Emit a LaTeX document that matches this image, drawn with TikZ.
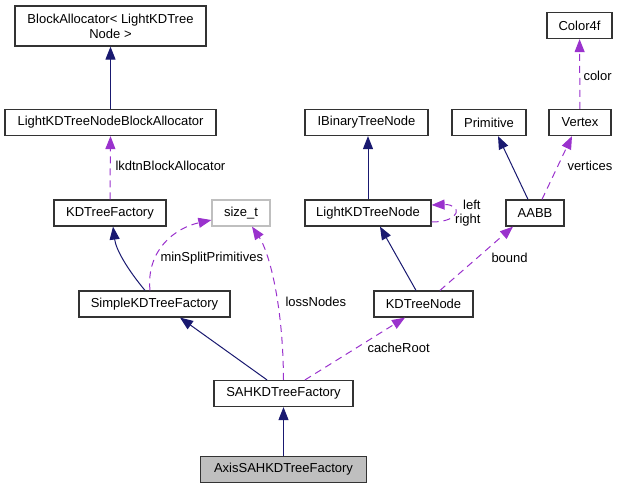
\documentclass[tikz,border=0pt]{standalone}
\usepackage{fontspec}
\setmainfont{Liberation Sans}
\usetikzlibrary{arrows.meta}
\definecolor{dxnavy}{HTML}{191970}
\definecolor{dxorchid}{HTML}{9A32CD}
\definecolor{dxgray}{HTML}{BFBFBF}

\begin{document}
\begin{tikzpicture}[x=1pt,y=-1pt,line width=1pt,font=\fontsize{13}{15}\selectfont,
	cls/.style={draw=black!80,fill=white,minimum height=26pt,inner sep=0pt,align=center,line width=1.2pt},
	inh/.style={dxnavy,-{Triangle[length=13pt,width=10pt]}},
	use/.style={dxorchid,dash pattern=on 7pt off 5pt,-{Triangle[length=13pt,width=10pt]}},
	lbl/.style={inner sep=0pt,anchor=west}]
			\useasboundingbox (0,0) rectangle (619,488);
			\node[cls,minimum width=191pt,minimum height=40pt] (blockalloc) at (110.5,26) {BlockAllocator< LightKDTree\\Node >};
			\node[cls,minimum width=211pt] (lkdtnalloc) at (110.5,122.5) {LightKDTreeNodeBlockAllocator};
			\node[cls,minimum width=112pt] (kdfactory) at (110,213) {KDTreeFactory};
			\node[cls,draw=dxgray,minimum width=58pt] (sizet) at (241,213) {size\_t};
			\node[cls,minimum width=151pt] (simplefactory) at (154.5,304) {SimpleKDTreeFactory};
			\node[cls,minimum width=139pt] (sahfactory) at (283.5,393.5) {SAHKDTreeFactory};
			\node[cls,fill=dxgray,minimum width=166pt] (axisfactory) at (283.5,469.5) {AxisSAHKDTreeFactory};
			\node[cls,minimum width=123pt] (ibinary) at (366.5,122.5) {IBinaryTreeNode};
			\node[cls,minimum width=74pt] (primitive) at (489,122.5) {Primitive};
			\node[cls,minimum width=62pt] (vertex) at (580,122.5) {Vertex};
			\node[cls,minimum width=65pt] (color4f) at (579.5,25.5) {Color4f};
			\node[cls,minimum width=126pt] (lightnode) at (368,213) {LightKDTreeNode};
			\node[cls,minimum width=58pt] (aabb) at (535,213) {AABB};
			\node[cls,minimum width=99pt] (kdnode) at (423.5,304) {KDTreeNode};
			\draw[inh] (lkdtnalloc) -- (blockalloc);
			\draw[use] (kdfactory.north) -- (lkdtnalloc.south);
			\draw[inh] ([xshift=-9.5pt]simplefactory.north) .. controls (128,270) and (116,250) .. ([xshift=3pt]kdfactory.south);
			\draw[use] ([xshift=-4.5pt]simplefactory.north) .. controls (146,250) and (175,228) .. ([yshift=-7pt]sizet.west);
			\draw[inh] ([xshift=-16.5pt]sahfactory.north) -- ([xshift=25.5pt]simplefactory.south);
			\draw[use] (sahfactory.north) .. controls (283,300) and (268,250) .. ([xshift=11pt]sizet.south);
			\draw[use] ([xshift=21.5pt]sahfactory.north) -- ([xshift=-18.5pt]kdnode.south);
			\draw[inh] (axisfactory) -- (sahfactory);
			\draw[inh] ([xshift=-7.5pt]kdnode.north) -- ([xshift=12pt]lightnode.south);
			\draw[use] ([xshift=16.5pt]kdnode.north) -- ([xshift=-22pt]aabb.south);
			\draw[inh] (lightnode.north) -- (lightnode.north |- ibinary.south);
			\draw[use] ([yshift=-9pt]lightnode.east) .. controls (462,222) and (462,204) .. ([yshift=8pt]lightnode.east);
			\draw[inh] ([xshift=-7pt]aabb.north) -- ([xshift=9pt]primitive.south);
			\draw[use] ([xshift=7pt]aabb.north) -- ([xshift=-8pt]vertex.south);
			\draw[use] (vertex) -- (color4f);
			\node[lbl] (lkdtnlbl) at (115,166) {lkdtnBlockAllocator};
			\node[lbl] (minsplitlbl) at (160,258) {minSplitPrimitives};
			\node[lbl] (losslbl) at (285,302) {lossNodes};
			\node[lbl] (cachelbl) at (367,348) {cacheRoot};
			\node[lbl] (boundlbl) at (491,258) {bound};
			\node[lbl,anchor=east] (leftlbl) at (481,205) {left};
			\node[lbl,anchor=east] (rightlbl) at (481,220) {right};
			\node[lbl] (verticeslbl) at (567,166) {vertices};
			\node[lbl] (colorlbl) at (583,76) {color};
		\end{tikzpicture}
\end{document}
